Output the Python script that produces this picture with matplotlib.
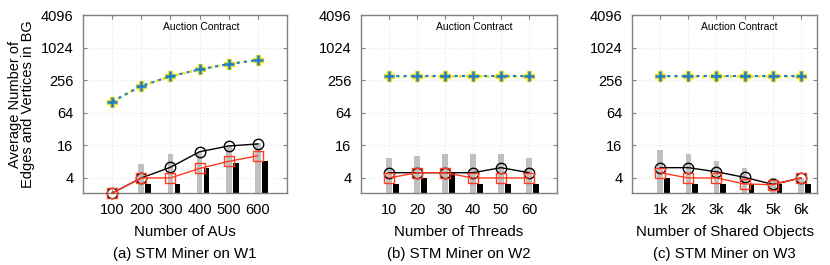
import matplotlib
matplotlib.use('Agg')
import matplotlib.pyplot as plt
import numpy as np

plt.rcParams['font.family'] = ['Liberation Sans', 'DejaVu Sans']

# ---- данные ----
# (a) W1, число AU
x_a = [100, 200, 300, 400, 500, 600]
yellow_a = [103, 200, 302, 406, 508, 604]
blue_a = [103, 200, 302, 406, 508, 604]
circle_a = [2.1, 4, 6.3, 12.2, 15.6, 17]
square_a = [2.1, 4, 4, 6, 8.1, 10.3]
grey_a = [2, 7.2, 11.2, 12, 16, 18]
black_a = [2, 3.1, 3.1, 6.2, 7.4, 8.3]

# (b) W2, число потоков
x_b = [10, 20, 30, 40, 50, 60]
yellow_b = [300, 300, 300, 300, 300, 300]
blue_b = [300, 300, 300, 300, 300, 300]
circle_b = [5, 5, 5, 5, 6.2, 5]
square_b = [4, 5, 5, 4, 4, 4]
grey_b = [9.3, 10.3, 11.2, 11.2, 11.2, 9.3]
black_b = [3.1, 4, 5, 3.1, 3.1, 3.1]

# (c) W3, число общих объектов
x_c = [1, 2, 3, 4, 5, 6]
labels_c = ['1k', '2k', '3k', '4k', '5k', '6k']
yellow_c = [300, 300, 300, 300, 300, 300]
blue_c = [300, 300, 300, 300, 300, 300]
circle_c = [6.2, 6.2, 5.2, 4.1, 3.05, 4]
square_c = [5, 4, 4, 3.1, 3, 4]
grey_c = [13.3, 11.2, 8.2, 6.2, 4, 4]
black_c = [4, 3.1, 3.1, 3.1, 3.1, 3.1]

yticks = [4, 16, 64, 256, 1024, 4096]

fig = plt.figure(figsize=(8.3, 2.65), dpi=100)

panels = [
    # left, width, x, labels, xlim, step, yellow, blue, circle, square, grey, black, xlabel, caption
    (83, 204, x_a, [str(v) for v in x_a], (0, 700), 100, yellow_a, blue_a, circle_a, square_a, grey_a, black_a,
     'Number of AUs', '(a) STM Miner on W1'),
    (361, 196, x_b, [str(v) for v in x_b], (0, 70), 10, yellow_b, blue_b, circle_b, square_b, grey_b, black_b,
     'Number of Threads', '(b) STM Miner on W2'),
    (632, 185, x_c, labels_c, (0, 6.57), 1, yellow_c, blue_c, circle_c, square_c, grey_c, black_c,
     'Number of Shared Objects', '(c) STM Miner on W3'),
]

W, H = 830, 265
top_px, bot_px = 15, 193

for (left, width, xs, xl, xlim, step, yel, blu, circ, sq, gr, bl, xlabel, caption) in panels:
    ax = fig.add_axes([left / W, (H - bot_px) / H, width / W, (bot_px - top_px) / H])
    ax.set_yscale('log', base=2)
    ylo = 2.11
    xs = np.array(xs, dtype=float)

    # столбцы
    bw = 0.2 * step
    ax.bar(xs, np.array(gr) - ylo, bottom=ylo, width=bw, color='#c0c0c0', zorder=2)
    ax.bar(xs + 0.24 * step, np.array(bl) - ylo, bottom=ylo, width=bw, color='black', zorder=2)

    # линии
    ax.plot(xs, yel, color='#f2e21c', lw=2.0, ls=(0, (1, 1.5)), marker='P', ms=6.5,
            mfc='#f2e21c', mec='#f2e21c', zorder=4, clip_on=False)
    ax.plot(xs, blu, color='#1f7fc8', lw=1.5, ls=(0, (1.5, 2)), marker='+', ms=7, mew=1.8,
            mec='#1f7fc8', zorder=5, clip_on=False)
    ax.plot(xs, circ, color='black', lw=1.0, marker='o', ms=7.5, mfc='none', mec='black',
            mew=1.0, zorder=6, clip_on=False)
    ax.plot(xs, sq, color='#ff3b1f', lw=1.0, marker='s', ms=7, mfc='none', mec='#ff3b1f',
            mew=1.0, zorder=7, clip_on=False)

    ax.set_xlim(*xlim)
    ax.set_ylim(ylo, 4096)
    ax.set_xticks(xs)
    ax.set_xticklabels(xl, fontsize=10.5)
    ax.set_yticks(yticks)
    ax.set_yticklabels([str(v) for v in yticks], fontsize=10.5)
    ax.minorticks_off()
    ax.tick_params(direction='in', length=3, color='#808080', top=True, right=True, pad=7)
    ax.grid(True, color='#e6e6e6', ls=(0, (1, 2)), lw=0.8, zorder=0)
    for s in ax.spines.values():
        s.set_color('#808080')
        s.set_linewidth(1.0)
    ax.set_xlabel(xlabel, fontsize=10.8, labelpad=6)
    ax.text(0.58, 0.93, 'Auction Contract', transform=ax.transAxes, ha='center', va='center',
            fontsize=7.5)
    fig.text((left + width / 2) / W, 1 - 254 / H, caption, ha='center', va='center', fontsize=10.8)
    if left == 83:
        ax.set_ylabel('Average Number of\nEdges and Vertices in BG', fontsize=10.5, labelpad=4,
                      linespacing=0.95)

fig.savefig('out.png', dpi=100)
